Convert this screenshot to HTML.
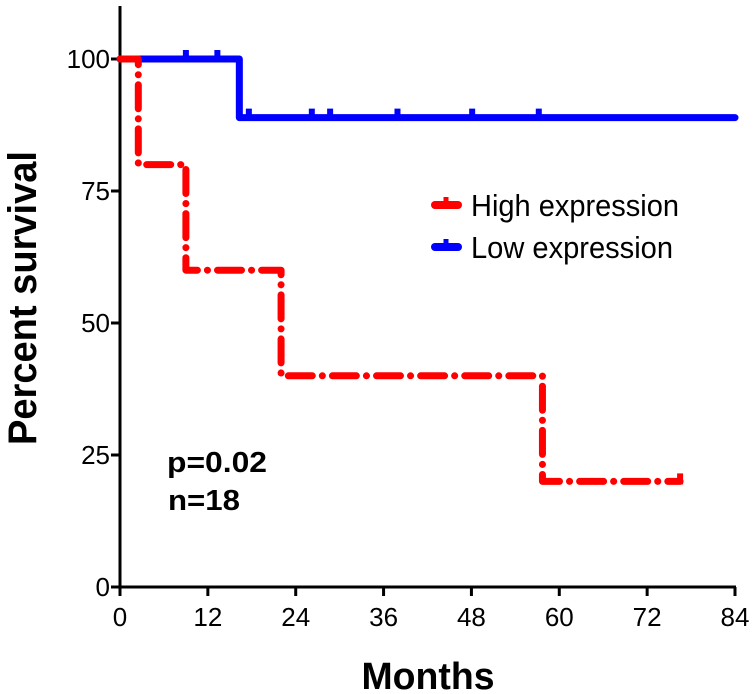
<!DOCTYPE html>
<html><head><meta charset="utf-8"><style>
html,body{margin:0;padding:0;background:#fff;}
svg{display:block;font-family:"Liberation Sans",Arial,sans-serif;}
</style></head><body>
<svg id="chart" width="754" height="694"></svg>
<script>
const xTicks=[0,12,24,36,48,60,72,84];
const yTicks=[0,25,50,75,100];
const highTimes=[0,2.5,9,22,57.7,76.5];
const highSurv=[100,80,60,40,20,20];
const lowTimes=[0,16.3,84];
const lowSurv=[100,88.9,88.9];
const highCensor=[76.5];
const lowCensor=[9,13.3,17.6,26.2,28.7,37.9,48.1,57.2];
const NS="http://www.w3.org/2000/svg";
const svg=document.getElementById('chart');
const X=m=>120+m*(735-120)/84;
const Y=v=>587-v*(587-59)/100;
function mk(t,a,p){const e=document.createElementNS(NS,t);for(const k in a)e.setAttribute(k,a[k]);(p||svg).appendChild(e);return e;}
let ax=mk('line',{x1:120,y1:6,x2:120,y2:589,stroke:'#000','stroke-width':3});


ax=mk('line',{x1:118,y1:587,x2:736,y2:587,stroke:'#000','stroke-width':3});


xTicks.forEach(t=>{
 const l=mk('line',{x1:X(t),y1:587,x2:X(t),y2:596,stroke:'#000','stroke-width':3});
 
 
 const tx=mk('text',{x:X(t),y:626,'text-anchor':'middle','font-size':26});
 tx.textContent=t;
 
 
});
yTicks.forEach(t=>{
 const l=mk('line',{x1:111,y1:Y(t),x2:120,y2:Y(t),stroke:'#000','stroke-width':3});
 
 
 const tx=mk('text',{x:110,y:Y(t)+9,'text-anchor':'end','font-size':26});
 tx.textContent=t;
 
 
});
function stepPath(ts,vs){let d=`M${X(ts[0])},${Y(vs[0])}`;for(let i=1;i<ts.length;i++){d+=` H${X(ts[i])} V${Y(vs[i])}`;}return d;}
let p=mk('path',{d:stepPath(lowTimes,lowSurv),fill:'none',stroke:'#0000ff','stroke-width':7,'stroke-linecap':'round','stroke-linejoin':'round'});


lowCensor.forEach(t=>{
 const v=t<16.3?100:88.9;
 const c=mk('line',{x1:X(t),y1:Y(v)-9,x2:X(t),y2:Y(v),stroke:'#0000ff','stroke-width':6});
 
 
});
p=mk('path',{d:stepPath(highTimes,highSurv),fill:'none',stroke:'#ff0000','stroke-width':7,'stroke-dasharray':'24 10 0.1 10','stroke-linecap':'round','stroke-linejoin':'round'});


highCensor.forEach(t=>{
 const c=mk('line',{x1:X(t),y1:Y(20)-8,x2:X(t),y2:Y(20)+3,stroke:'#ff0000','stroke-width':6});
 
 
});
let g=mk('line',{x1:435,y1:205,x2:458,y2:205,stroke:'#ff0000','stroke-width':8,'stroke-linecap':'round'});


g=mk('line',{x1:446,y1:197,x2:446,y2:205,stroke:'#ff0000','stroke-width':5});


g=mk('text',{x:471,y:216,'font-size':31,'textLength':208,'lengthAdjust':'spacingAndGlyphs'});g.textContent='High expression';


g=mk('line',{x1:435,y1:247,x2:458,y2:247,stroke:'#0000ff','stroke-width':8,'stroke-linecap':'round'});


g=mk('line',{x1:446,y1:239,x2:446,y2:247,stroke:'#0000ff','stroke-width':5});


g=mk('text',{x:471,y:258,'font-size':31,'textLength':202,'lengthAdjust':'spacingAndGlyphs'});g.textContent='Low expression';


g=mk('text',{x:167,y:472,'font-size':29,'font-weight':'bold','textLength':100,'lengthAdjust':'spacingAndGlyphs'});g.textContent='p=0.02';


g=mk('text',{x:168,y:510,'font-size':29,'font-weight':'bold','textLength':72,'lengthAdjust':'spacingAndGlyphs'});g.textContent='n=18';


g=mk('text',{x:428,y:689,'font-size':38,'font-weight':'bold','text-anchor':'middle','textLength':133,'lengthAdjust':'spacingAndGlyphs'});g.textContent='Months';


g=mk('text',{x:0,y:0,'font-size':40,'font-weight':'bold','text-anchor':'middle','textLength':294,'lengthAdjust':'spacingAndGlyphs',transform:'translate(36,298) rotate(-90)'});g.textContent='Percent survival';


</script>
</body></html>
